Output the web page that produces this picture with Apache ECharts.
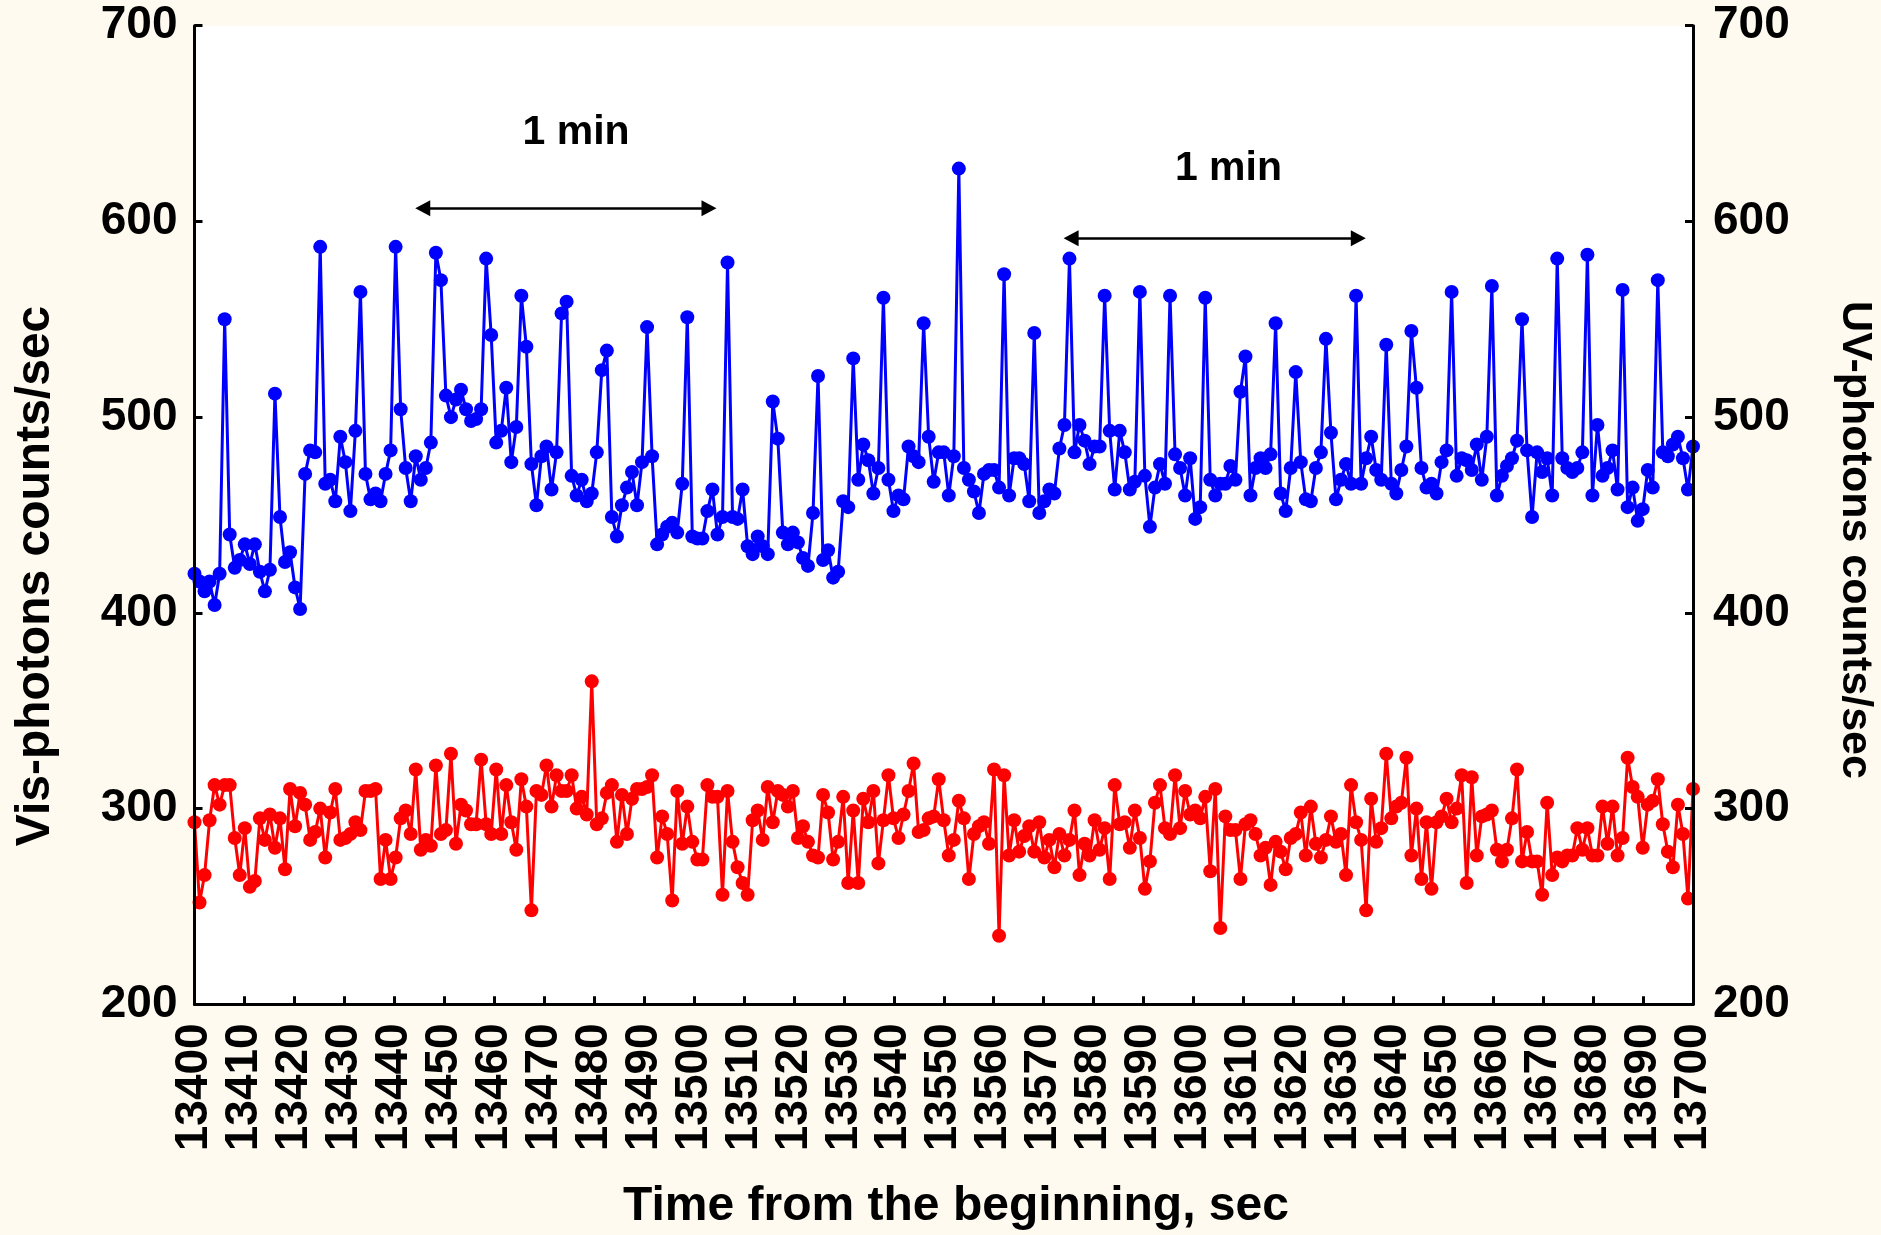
<!DOCTYPE html>
<html>
<head>
<meta charset="utf-8">
<script src="https://cdn.jsdelivr.net/npm/echarts@6/dist/echarts.min.js"></script>
<style>
html,body{margin:0;padding:0;background:#fffaf0;}
#chart{width:1881px;height:1235px;}
</style>
</head>
<body>
<div id="chart"></div>
<script>
// Time range (s) covered by the samples
const T_START = 13400;
const T_END = 13700;

// Vis-photons counts/sec (blue), one sample per step
const VIS_COUNTS = [
420,416,411,416,404,420,550,440,423,427,
435,425,435,421,411,422,512,449,426,431,
413,402,471,483,482,587,466,468,457,490,
477,452,493,564,471,458,461,457,471,483,
587,504,474,457,480,468,474,487,584,570,
511,500,509,514,504,498,499,504,581,542,
487,493,515,477,495,562,536,476,455,480,
485,463,482,553,559,470,460,468,457,461,
482,524,534,449,439,455,464,472,455,477,
546,480,435,440,444,446,441,466,551,439,
438,438,452,463,440,449,579,449,448,463,
434,430,439,434,430,508,489,441,435,441,
436,428,424,451,521,427,432,418,421,457,
454,530,468,486,478,461,474,561,468,452,
460,458,485,480,477,548,490,467,482,482,
460,480,627,474,468,462,451,471,473,473,
464,573,460,479,479,476,457,543,451,457,
463,461,484,496,581,482,496,488,476,485,
485,562,493,463,493,482,463,467,564,470,
444,464,476,466,562,481,474,460,479,448,
454,561,468,460,466,466,475,468,513,531,
460,474,479,474,481,548,461,452,474,523,
477,458,457,474,482,540,492,458,468,476,
466,562,466,479,490,473,468,537,466,461,
473,485,544,515,474,464,466,461,477,483,
564,470,479,478,473,486,468,490,567,460,
470,475,479,488,550,483,449,482,472,479,
460,581,479,474,472,474,482,583,460,496,
470,474,483,463,565,454,464,447,453,473,
464,570,482,480,486,490,479,463,485
];

// UV-photons counts/sec (red)
const UV_COUNTS = [
293,252,266,294,312,302,312,312,285,266,
290,260,263,295,284,297,280,295,269,310,
291,308,302,284,288,300,275,298,310,284,
285,287,293,289,309,309,310,264,284,264,
275,295,299,287,320,279,284,281,322,287,
289,328,282,302,299,292,292,325,292,287,
320,287,312,293,279,315,301,248,309,307,
322,301,317,309,309,317,300,306,297,365,
292,295,308,312,283,307,287,305,310,310,
311,317,275,296,287,253,309,282,301,283,
274,274,312,306,306,256,309,283,270,262,
256,294,299,284,311,293,309,307,301,309,
285,291,283,276,275,307,298,274,283,306,
262,299,262,305,293,309,272,294,317,295,
285,297,309,323,288,289,295,296,315,294,
276,284,304,295,264,287,291,293,282,320,
235,317,276,294,278,286,291,278,293,275,
284,270,287,276,284,299,266,282,276,294,
279,290,264,312,292,293,280,299,285,259,
273,303,312,290,287,317,290,309,297,299,
295,306,268,310,239,296,289,289,264,292,
294,287,276,280,261,283,278,269,285,287,
298,276,301,282,275,284,296,283,287,266,
312,293,284,248,305,283,290,328,295,301,
303,326,276,300,264,293,259,293,296,305,
293,300,317,262,316,276,296,297,299,279,
273,279,295,320,273,288,273,273,256,303,
266,275,273,276,276,290,279,290,276,276,
301,282,301,276,285,326,311,306,280,302,
304,315,292,278,270,302,287,254,310
];

// Axis settings
const X_MIN = 13400, X_MAX = 13700, X_STEP = 10;
const Y_MIN = 200, Y_MAX = 700, Y_STEP = 100;

// "1 min" annotations: arrow tips (time) and arrow level, label anchor
const ARROWS = [
  {from: 13444.3, to: 13504.4, y: 606.7},
  {from: 13574.1, to: 13634.4, y: 591.4}
];
const ARROW_LABELS = [
  {text: '1 min', x: 13476.4, y: 645.2},
  {text: '1 min', x: 13607.0, y: 626.8}
];

function toPairs(arr) {
  const n = arr.length;
  return arr.map((v, i) => [T_START + i * (T_END - T_START) / (n - 1), v]);
}

const FONT = '"Liberation Sans", Arial, sans-serif';
const chart = echarts.init(document.getElementById('chart'), null, {renderer: 'canvas'});

const axisCommon = {
  min: Y_MIN, max: Y_MAX, interval: Y_STEP,
  axisLine: {show: true, lineStyle: {color: '#000', width: 3}},
  axisTick: {show: true, inside: true, length: 8, lineStyle: {color: '#000', width: 3}},
  splitLine: {show: false},
  z: 10
};

// arrow tip inset (seconds): triangle symbol centered on end point
const INSET = 1.4;

const option = {
  animation: false,
  backgroundColor: '#fffaf0',
  grid: {
    left: 194.5, right: 188, top: 25.7, bottom: 230.7,
    show: true, backgroundColor: '#ffffff', borderWidth: 0
  },
  xAxis: {
    type: 'value',
    min: X_MIN, max: X_MAX, interval: X_STEP,
    axisLine: {show: true, onZero: false, lineStyle: {color: '#000', width: 3}},
    axisTick: {show: true, inside: true, length: 8, lineStyle: {color: '#000', width: 3}},
    splitLine: {show: false},
    axisLabel: {
      rotate: 90, margin: 19, color: '#000',
      fontSize: 46, fontWeight: 'bold', fontFamily: FONT,
      formatter: v => String(v)
    },
    z: 10
  },
  yAxis: [
    Object.assign({}, axisCommon, {
      type: 'value', position: 'left',
      axisLabel: {margin: 17, color: '#000', fontSize: 46, fontWeight: 'bold', fontFamily: FONT}
    }),
    Object.assign({}, axisCommon, {
      type: 'value', position: 'right',
      axisLabel: {margin: 20, color: '#000', fontSize: 46, fontWeight: 'bold', fontFamily: FONT}
    })
  ],
  series: [
    {
      name: 'UV', type: 'line', yAxisIndex: 1,
      data: toPairs(UV_COUNTS),
      symbol: 'circle', symbolSize: 14, showSymbol: true, showAllSymbol: true,
      lineStyle: {color: '#ff0000', width: 3},
      itemStyle: {color: '#ff0000'},
      clip: true
    },
    {
      name: 'Vis', type: 'line', yAxisIndex: 0,
      data: toPairs(VIS_COUNTS),
      symbol: 'circle', symbolSize: 14, showSymbol: true, showAllSymbol: true,
      lineStyle: {color: '#0000ff', width: 3},
      itemStyle: {color: '#0000ff'},
      clip: true,
      markLine: {
        silent: true,
        symbol: ['triangle', 'triangle'],
        symbolSize: [16, 15],
        lineStyle: {color: '#000', width: 2.5, type: 'solid'},
        label: {show: false},
        data: ARROWS.map(a => [
          {coord: [a.from + INSET, a.y]},
          {coord: [a.to - INSET, a.y]}
        ])
      },
      markPoint: {
        silent: true,
        symbol: 'circle', symbolSize: 1,
        itemStyle: {color: 'rgba(0,0,0,0)'},
        label: {
          show: true, position: 'inside', color: '#000',
          fontSize: 41, fontWeight: 'bold', fontFamily: FONT,
          formatter: p => p.name
        },
        data: ARROW_LABELS.map(l => ({name: l.text, coord: [l.x, l.y]}))
      }
    }
  ],
  graphic: [
    {
      type: 'text', x: 36, y: 576, rotation: Math.PI / 2,
      style: {
        text: 'Vis-photons counts/sec', fill: '#000',
        font: 'bold 48px ' + FONT, textAlign: 'center', textVerticalAlign: 'middle'
      }
    },
    {
      type: 'text', x: 1855, y: 540, rotation: -Math.PI / 2,
      style: {
        text: 'UV-photons counts/sec', fill: '#000',
        font: 'bold 43px ' + FONT, textAlign: 'center', textVerticalAlign: 'middle'
      }
    },
    {
      type: 'text', x: 956, y: 1207,
      style: {
        text: 'Time from the beginning, sec', fill: '#000',
        font: 'bold 48px ' + FONT, textAlign: 'center', textVerticalAlign: 'middle'
      }
    }
  ]
};

chart.setOption(option);
</script>
</body>
</html>
